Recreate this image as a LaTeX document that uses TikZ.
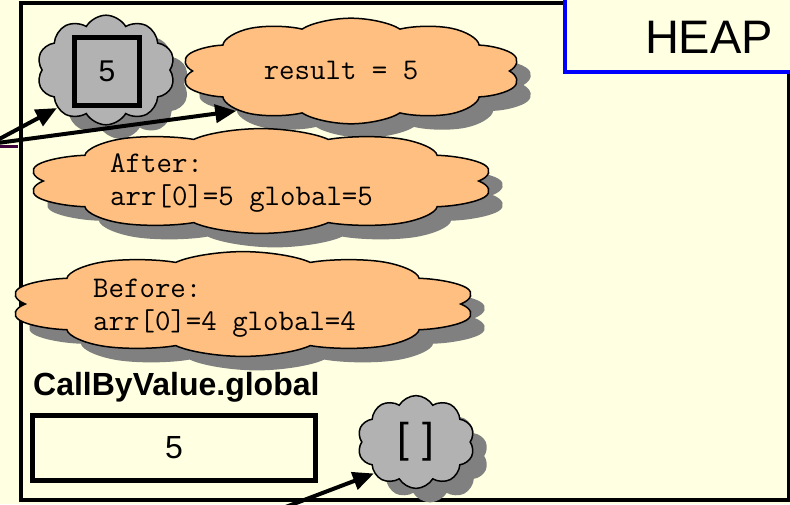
\documentclass[tikz,border=0pt]{standalone}
\usepackage{fontspec}
\setmainfont{Liberation Sans}
\usetikzlibrary{positioning}
\usetikzlibrary{shapes.symbols, shadows, arrows.meta}
\definecolor{bgyellow}{RGB}{255,255,225}
\definecolor{cloudorange}{RGB}{255,191,128}
\definecolor{cloudgray}{RGB}{178,178,178}
\definecolor{shadowgray}{RGB}{128,128,128}
\definecolor{framepurple}{RGB}{64,0,64}

\begin{document}
\begin{tikzpicture}[x=1pt, y=-1pt]
	\tikzstyle{puff} = [cloud, cloud puffs=10, cloud puff arc=120, aspect=1.25, inner sep=0,
		minimum width=100pt, minimum height=80pt, draw, line width=1.5pt, transform shape,
		drop shadow={shadow xshift=14pt, shadow yshift=-14pt, fill=shadowgray, opacity=1}]
	\tikzstyle{code} = [inner sep=0, anchor=base west, font=\ttfamily\fontsize{30}{35}\selectfont]
	\tikzstyle{ptr} = [line width=4pt, -{Triangle[length=21pt, width=18pt]}]

	\useasboundingbox (0,0) rectangle (790,504);
	\clip (0,0) rectangle (790,504);
	\fill[bgyellow] (0,0) rectangle (790,504);

	% heap frame
	\draw[line width=4pt] (21,3) rectangle (789,500);
	\draw[framepurple, line width=3pt] (-5,146) -- (18,146);
	\draw[blue, line width=4pt, fill=bgyellow] (565,72) rectangle (800,-10);
	\node (heap) [anchor=base, font=\fontsize{47}{56}\selectfont] at (709,53) {HEAP};

	\node (numcloud) [puff, fill=cloudgray, xscale=1.38, yscale=1.37] at (106,70) {};
	\node (numbox) [draw, line width=5pt, fill=cloudgray, minimum width=65pt, minimum height=68pt,
		font=\fontsize{30}{36}\selectfont] at (107,71) {5};

	\node (resultcloud) [puff, fill=cloudorange, xscale=3.42, yscale=1.32] at (351,71) {};
	\node (resulttext) [code, anchor=base] at (341,79) {result = 5};

	\node (aftercloud) [puff, fill=cloudorange, xscale=4.7, yscale=1.31] at (261,181) {};
	\node (aftertitle) [code] at (110,172) {After:};
	\node (afterline) [code] at (110,205) {arr[0]=5 global=5};

	\node (beforecloud) [puff, fill=cloudorange, xscale=4.7, yscale=1.31] at (243,304) {};
	\node (beforetitle) [code] at (93,297) {Before:};
	\node (beforeline) [code] at (93,330) {arr[0]=4 global=4};

	\node (globalname) [anchor=base west, inner sep=0, font=\bfseries\fontsize{32}{38}\selectfont] at (33,395) {CallByValue.global};
	\node (globalbox) [draw, line width=4.5pt, minimum width=283pt, minimum height=65pt,
		font=\fontsize{32}{38}\selectfont] at (174,448) {5};

	\node (arrcloud) [puff, fill=cloudgray, xscale=1.17, yscale=1.16,
		font=\fontsize{36}{44}\selectfont] at (416,442) {[\hspace{0.3em}]};

	\coordinate (stackref) at (-10,144);
	\coordinate (globalref) at (262,516);
	\draw[ptr] (stackref) -- (numcloud.218);
	\draw[ptr] (stackref) -- (resultcloud.222);
	\draw[ptr] (globalref) -- (arrcloud.217);
\end{tikzpicture}
\end{document}
